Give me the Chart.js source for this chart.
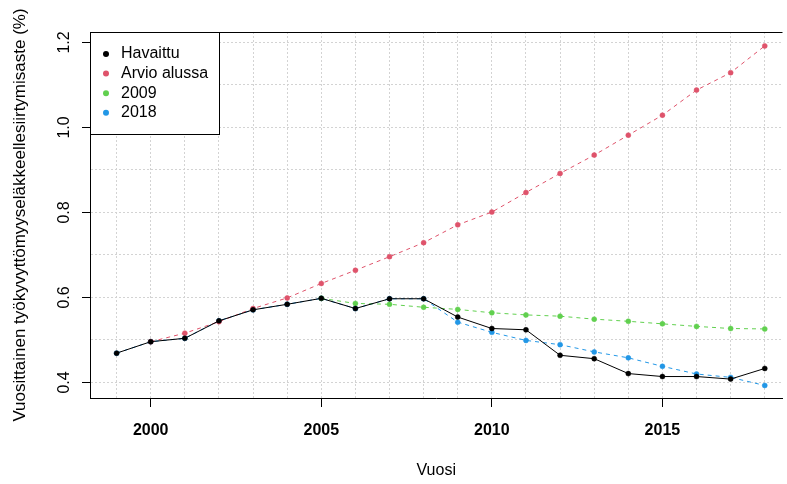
<!DOCTYPE html>
<html>
<head>
<meta charset="utf-8">
<script src="https://cdn.jsdelivr.net/npm/chart.js@4.4.0/dist/chart.umd.min.js"></script>
<style>
  html, body { margin: 0; padding: 0; background: #fff; }
  #wrap { width: 787px; height: 484px; }
</style>
</head>
<body>
<div id="wrap"><canvas id="chart"></canvas></div>
<script>
const years = [1999, 2000, 2001, 2002, 2003, 2004, 2005, 2006, 2007, 2008,
               2009, 2010, 2011, 2012, 2013, 2014, 2015, 2016, 2017, 2018]

// Havaittu
const observed = [0.469, 0.496, 0.504, 0.545, 0.571, 0.584, 0.598, 0.574, 0.597, 0.597,
                  0.554, 0.527, 0.524, 0.464, 0.456, 0.421, 0.414, 0.414, 0.408, 0.433]
// Arvio alussa
const estimateAtStart = [null, 0.496, 0.516, 0.543, 0.574, 0.599, 0.633, 0.664, 0.696, 0.729,
                         0.771, 0.801, 0.847, 0.892, 0.935, 0.982, 1.029, 1.088, 1.129, 1.192]
// 2009
const forecast2009 = [null, null, null, null, null, null, 0.598, 0.586, 0.584, 0.577,
                      0.572, 0.564, 0.559, 0.556, 0.549, 0.544, 0.538, 0.532, 0.527, 0.526]
// 2018
const forecast2018 = [0.469, 0.496, 0.504, 0.545, 0.571, 0.584, 0.598, 0.574, 0.597, 0.597,
                      0.542, 0.518, 0.499, 0.489, 0.472, 0.458, 0.438, 0.420, 0.412, 0.393]

const xLabelYears = [2000, 2005, 2010, 2015]
const yGridValues = [0.4, 0.5, 0.6, 0.7, 0.8, 0.9, 1.0, 1.1, 1.2]
const yLabelValues = [0.4, 0.6, 0.8, 1.0, 1.2]

const fontFamily = '"Liberation Sans", Arial, sans-serif'

const toPoints = values => years.map((x, i) => ({ x: x, y: values[i] }))
const isYLabel = value => yLabelValues.some(v => Math.abs(v - value) < 1e-6)

const series = (label, values, color, dashed) => ({
  label: label,
  data: toPoints(values),
  borderColor: color,
  backgroundColor: color,
  pointBackgroundColor: color,
  pointBorderColor: color,
  borderWidth: 1,
  borderDash: dashed ? [4, 4] : [],
  pointRadius: 2.5,
  pointBorderWidth: 0.5,
  tension: 0
})

const frameAndLegend = {
  id: "frameAndLegend",
  afterDraw(chart) {
    const ctx = chart.ctx
    const area = chart.chartArea
    ctx.save()
    // top edge of the plot box
    ctx.strokeStyle = "#000"
    ctx.lineWidth = 1
    ctx.beginPath()
    ctx.moveTo(area.left, area.top + 0.5)
    ctx.lineTo(area.right, area.top + 0.5)
    ctx.stroke()

    // legend in the top left corner
    const w = 129, h = 102
    ctx.fillStyle = "#fff"
    ctx.fillRect(area.left, area.top, w, h)
    ctx.strokeRect(area.left + 0.5, area.top + 0.5, w, h)
    ctx.font = "16px " + fontFamily
    ctx.textBaseline = "middle"
    chart.data.datasets.forEach((ds, i) => {
      const y = area.top + 22 + i * 19.6
      ctx.fillStyle = ds.pointBackgroundColor
      ctx.beginPath()
      ctx.arc(area.left + 16, y, 3, 0, Math.PI * 2)
      ctx.fill()
      ctx.fillStyle = "#000"
      ctx.fillText(ds.label, area.left + 31, y)
    })
    ctx.restore()
  }
}

new Chart(document.getElementById("chart"), {
  type: "line",
  data: {
    datasets: [
      series("Havaittu", observed, "#000000", false),
      series("Arvio alussa", estimateAtStart, "#DF536B", true),
      series("2009", forecast2009, "#61D04F", true),
      series("2018", forecast2018, "#2297E6", true)
    ]
  },
  options: {
    responsive: true,
    maintainAspectRatio: false,
    animation: false,
    layout: { padding: { top: 32, right: 0, left: 0, bottom: 0 } },
    plugins: {
      legend: { display: false },
      tooltip: { enabled: false }
    },
    scales: {
      x: {
        type: "linear",
        min: 1998.22,
        max: 2018.52,
        afterBuildTicks: scale => { scale.ticks = years.map(v => ({ value: v })) },
        afterFit: scale => { scale.height = 86 },
        border: { display: true, color: "#000", width: 1, dash: [2, 2] },
        grid: {
          color: "#d3d3d3",
          drawTicks: true,
          tickLength: 9,
          tickBorderDash: [],
          tickColor: ctx => xLabelYears.includes(ctx.tick.value) ? "#000" : "rgba(0,0,0,0)"
        },
        ticks: {
          autoSkip: false,
          maxRotation: 0,
          padding: 14,
          color: "#000",
          font: { family: fontFamily, size: 16, weight: "bold" },
          callback: value => xLabelYears.includes(value) ? String(value) : ""
        },
        title: {
          display: true,
          text: "Vuosi",
          color: "#000",
          font: { family: fontFamily, size: 16 },
          padding: { top: 0, bottom: 4 }
        }
      },
      y: {
        type: "linear",
        min: 0.3635,
        max: 1.2247,
        afterBuildTicks: scale => { scale.ticks = yGridValues.map(v => ({ value: v })) },
        afterFit: scale => { scale.width = 90 },
        border: { display: true, color: "#000", width: 1, dash: [2, 2] },
        grid: {
          color: "#d3d3d3",
          drawTicks: true,
          tickLength: 8,
          tickBorderDash: [],
          tickColor: ctx => isYLabel(ctx.tick.value) ? "#000" : "rgba(0,0,0,0)"
        },
        ticks: {
          autoSkip: false,
          minRotation: 90,
          maxRotation: 90,
          crossAlign: "center",
          padding: 6,
          color: "#000",
          font: { family: fontFamily, size: 16 },
          callback: value => isYLabel(value) ? value.toFixed(1) : ""
        },
        title: {
          display: true,
          text: "Vuosittainen työkyvyttömyyseläkkeellesiirtymisaste (%)",
          color: "#000",
          font: { family: fontFamily, size: 17 },
          padding: { top: 10, bottom: 0 }
        }
      }
    }
  },
  plugins: [frameAndLegend]
})
</script>
</body>
</html>
